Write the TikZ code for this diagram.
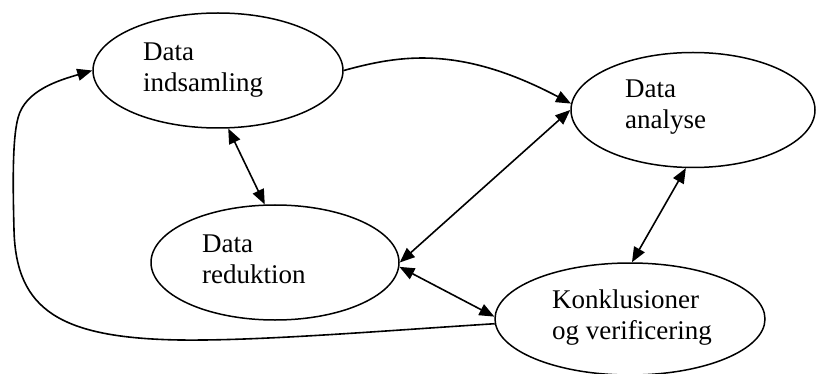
\documentclass[tikz,border=0pt]{standalone}
\usepackage{fontspec}
\setmainfont{Liberation Serif}
\usetikzlibrary{shapes.geometric,arrows.meta}
\begin{document}
\begin{tikzpicture}[x=1pt,y=-1pt,
  ell/.style={draw,ellipse,line width=1.5pt,inner sep=0pt},
  lbl/.style={anchor=base west,inner sep=0pt,align=left,font=\fontsize{27}{31}\selectfont},
  conn/.style={line width=1.6pt},
  tipone/.style={-{Triangle[length=15pt,width=12pt]}},
  tiptwo/.style={{Triangle[length=15pt,width=12pt]}-{Triangle[length=15pt,width=12pt]}}]
\useasboundingbox (0,0) rectangle (816,374);
\node[ell,minimum width=250pt,minimum height=115pt] (e1) at (218,70.5) {};
\node[ell,minimum width=244pt,minimum height=115pt] (e2) at (693,110) {};
\node[ell,minimum width=248pt,minimum height=115pt] (e3) at (275,262.5) {};
\node[ell,minimum width=270pt,minimum height=112pt] (e4) at (630,319) {};
\node[lbl] (t1) at (143,92) {Data\\indsamling};
\node[lbl] (t2) at (625,129) {Data\\analyse};
\node[lbl] (t3) at (202,283) {Data\\reduktion};
\node[lbl] (t4) at (552,339) {Konklusioner\\og verificering};
\draw[conn,tipone] (e1.east) .. controls (400,55) and (460,45) .. (e2.177);
\draw[conn,tiptwo] (e3.east) -- (e2.west);
\draw[conn,tiptwo] (e1.-80) -- (e3.100);
\draw[conn,tiptwo] (e2.-97) -- (e4.88);
\draw[conn,tiptwo] (e3.-2) -- (e4.179);
\draw[conn,tipone] (e4.182) .. controls (380,331) and (260,341) .. (180,340)
  .. controls (60,338) and (16,310) .. (14,230)
  .. controls (13,190) and (12,140) .. (18,118)
  .. controls (25,90) and (60,80) .. (e1.west);
\end{tikzpicture}
\end{document}
